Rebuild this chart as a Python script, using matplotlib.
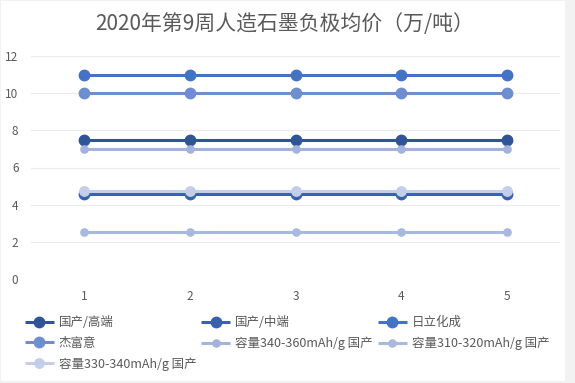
import matplotlib.pyplot as plt
from matplotlib.patches import Rectangle

plt.rcParams['font.family'] = ['Noto Sans CJK SC', 'DejaVu Sans']

# --- data ---
weeks = [1, 2, 3, 4, 5]
series_names = ["国产/高端", "国产/中端", "日立化成", "杰富意",
                "容量340-360mAh/g 国产", "容量310-320mAh/g 国产", "容量330-340mAh/g 国产"]
series_values = [
    [7.5, 7.5, 7.5, 7.5, 7.5],
    [4.6, 4.6, 4.6, 4.6, 4.6],
    [11, 11, 11, 11, 11],
    [10, 10, 10, 10, 10],
    [7.0, 7.0, 7.0, 7.0, 7.0],
    [2.55, 2.55, 2.55, 2.55, 2.55],
    [4.72, 4.72, 4.72, 4.72, 4.72],
]
colors = ["#2F5597", "#3862AE", "#4472C4", "#6F8ED0",
          "#A3B3DD", "#A9B8DF", "#C4CEEA"]
marker_sizes = [7.5, 7.5, 7.5, 7.5, 5.2, 5.2, 6.8]
y_ticks = [0, 2, 4, 6, 8, 10, 12]

fig = plt.figure(figsize=(5.75, 3.83), dpi=100)
fig.patch.set_facecolor("#F2F2F2")
fig.patches.append(Rectangle((1 / 575, 2 / 383), 564 / 575, 380 / 383,
                             transform=fig.transFigure, facecolor="white",
                             edgecolor="none", zorder=-5))

ax = fig.add_axes([31 / 575, 1 - 279 / 383, 529 / 575, 223 / 383])
ax.set_facecolor("none")
ax.set_zorder(2)

lines = []
for name, vals, c, ms in zip(series_names, series_values, colors, marker_sizes):
    ln, = ax.plot(weeks, vals, color=c, lw=2.2, marker='o', ms=ms,
                  label=name, solid_capstyle='butt', clip_on=False)
    lines.append(ln)

ax.set_xlim(0.5, 5.5)
ax.set_ylim(0, 12)
ax.set_xticks(weeks)
ax.set_yticks(y_ticks)
ax.grid(axis='y', color="#EBEBEB", lw=0.8)
ax.set_axisbelow(True)
for s in ax.spines.values():
    s.set_visible(False)
ax.tick_params(axis='both', length=0, labelsize=8.5, labelcolor="#595959")
ax.tick_params(axis='x', pad=8)
ax.tick_params(axis='y', pad=9)

fig.text(285 / 575, 1 - 24 / 383, "2020年第9周人造石墨负极均价（万/吨）",
         ha='center', va='center', fontsize=15, color="#595959")

# row-major legend order -> reorder for matplotlib's column fill
order = [0, 3, 6, 1, 4, 2, 5]
leg = fig.legend([lines[i] for i in order], [series_names[i] for i in order],
                 ncol=3, loc='upper left', bbox_to_anchor=(25 / 575, 1 - 316 / 383),
                 frameon=False, fontsize=9, handlelength=2.3, handletextpad=0.4,
                 columnspacing=0.4, labelspacing=0.6, borderpad=0, borderaxespad=0,
                 labelcolor="#595959")
leg.set_zorder(3)

fig.savefig("out.png", dpi=100)
